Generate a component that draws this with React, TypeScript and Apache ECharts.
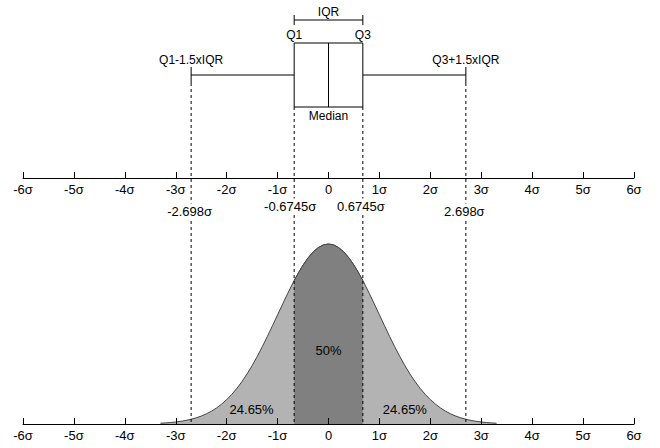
import React, { useEffect, useRef } from "react";
import * as echarts from "echarts";

// ---- data ----
const boxStats = [-2.698, -0.6745, 0, 0.6745, 2.698]; // whiskerLow, Q1, median, Q3, whiskerHigh
const boxLabels = ["Q1-1.5xIQR", "Q1", "Median", "Q3", "Q3+1.5xIQR"];
const iqrLabel = "IQR";
const markerLabels = ["-2.698σ", "-0.6745σ", "0.6745σ", "2.698σ"];
const regionLabels = ["24.65%", "50%", "24.65%"];
const regionCenters = [-1.51, 0, 1.5];
const regionHeights = [0.033, 0.164, 0.033];

const curveX = [
  -3.3, -3.2, -3.1, -3.0, -2.9, -2.8, -2.7, -2.6, -2.5, -2.4, -2.3, -2.2, -2.1, -2.0,
  -1.9, -1.8, -1.7, -1.6, -1.5, -1.4, -1.3, -1.2, -1.1, -1.0, -0.9, -0.8, -0.7, -0.6,
  -0.5, -0.4, -0.3, -0.2, -0.1, 0, 0.1, 0.2, 0.3, 0.4, 0.5, 0.6, 0.7, 0.8, 0.9, 1.0,
  1.1, 1.2, 1.3, 1.4, 1.5, 1.6, 1.7, 1.8, 1.9, 2.0, 2.1, 2.2, 2.3, 2.4, 2.5, 2.6, 2.7,
  2.8, 2.9, 3.0, 3.1, 3.2, 3.3,
];
const curveY = [
  0.0017, 0.0024, 0.0033, 0.0044, 0.006, 0.0079, 0.0104, 0.0136, 0.0175, 0.0224, 0.0283,
  0.0355, 0.044, 0.054, 0.0656, 0.079, 0.094, 0.1109, 0.1295, 0.1497, 0.1714, 0.1942,
  0.2179, 0.242, 0.2661, 0.2897, 0.3123, 0.3332, 0.3521, 0.3683, 0.3814, 0.391, 0.397,
  0.3989, 0.397, 0.391, 0.3814, 0.3683, 0.3521, 0.3332, 0.3123, 0.2897, 0.2661, 0.242,
  0.2179, 0.1942, 0.1714, 0.1497, 0.1295, 0.1109, 0.094, 0.079, 0.0656, 0.054, 0.044,
  0.0355, 0.0283, 0.0224, 0.0175, 0.0136, 0.0104, 0.0079, 0.006, 0.0044, 0.0033, 0.0024,
  0.0017,
];
const iqrX = [-0.6745, -0.6, -0.5, -0.4, -0.3, -0.2, -0.1, 0, 0.1, 0.2, 0.3, 0.4, 0.5, 0.6, 0.6745];
const iqrY = [
  0.3178, 0.3332, 0.3521, 0.3683, 0.3814, 0.391, 0.397, 0.3989, 0.397, 0.391, 0.3814,
  0.3683, 0.3521, 0.3332, 0.3178,
];

// ---- styles ----
const FONT_FAMILY = '"Liberation Sans", Arial, sans-serif';
const FONT = `12px ${FONT_FAMILY}`;
const FONT_NUM = `13px ${FONT_FAMILY}`;
const TXT = "#000";
const BOX_TOP = 43;
const BOX_BOTTOM = 107;
const WHISKER_Y = 75;
const CAP = 8;
const IQR_Y = 20;
const IQR_CAP = 5;

const fmt = (v: number) => (v === 0 ? "0" : `${v}σ`);

const axisCfg = (gridIndex: number) => ({
  type: "value",
  gridIndex,
  min: -6,
  max: 6,
  interval: 1,
  z: 5,
  axisLine: { show: true, onZero: false, lineStyle: { color: "#000", width: 1 } },
  axisTick: { show: true, inside: true, length: 6, lineStyle: { color: "#000", width: 1 } },
  axisLabel: { color: TXT, fontSize: 13, fontFamily: FONT_FAMILY, margin: 5, formatter: fmt },
  splitLine: { show: false },
});

function txt(text: string, x: number, y: number, font: string, bg?: boolean) {
  return {
    type: "text",
    x,
    y,
    z2: 20,
    style: {
      text,
      fill: TXT,
      font,
      align: "center",
      verticalAlign: "middle",
      textAlign: "center",
      textVerticalAlign: "middle",
      backgroundColor: bg ? "#fff" : undefined,
      padding: bg ? [1, 1] : undefined,
    },
  };
}

function line(x1: number, y1: number, x2: number, y2: number, dashed?: boolean) {
  return {
    type: "line",
    z2: 10,
    shape: { x1, y1, x2, y2 },
    style: { stroke: "#000", lineWidth: 1, lineDash: dashed ? [3, 3] : undefined },
  };
}

export default function App() {
  const ref = useRef<HTMLDivElement>(null);
  useEffect(() => {
    if (!ref.current) return;
    const chart = echarts.init(ref.current, undefined, { renderer: "svg" });
    const option: any = {
      animation: false,
      backgroundColor: "#fff",
      grid: [
        { left: 23, right: 26, top: 230, bottom: 24 },
        { left: 23, right: 26, top: 0, height: 178 },
      ],
      xAxis: [axisCfg(0), axisCfg(1)],
      yAxis: [
        { type: "value", gridIndex: 0, min: 0, max: 0.43, show: false },
        { type: "value", gridIndex: 1, min: 0, max: 1, show: false },
      ],
      series: [
        {
          type: "line",
          xAxisIndex: 0,
          yAxisIndex: 0,
          data: curveX.map((x, i) => [x, curveY[i]]),
          symbol: "none",
          silent: true,
          lineStyle: { color: "#444", width: 1 },
          areaStyle: { color: "#b3b3b3", opacity: 1 },
          z: 2,
        },
        {
          type: "line",
          xAxisIndex: 0,
          yAxisIndex: 0,
          data: iqrX.map((x, i) => [x, iqrY[i]]),
          symbol: "none",
          silent: true,
          lineStyle: { color: "#444", width: 1 },
          areaStyle: { color: "#808080", opacity: 1 },
          z: 3,
        },
        {
          type: "custom",
          xAxisIndex: 0,
          yAxisIndex: 0,
          silent: true,
          clip: false,
          z: 4,
          data: [boxStats],
          encode: { x: [0, 1, 2, 3, 4] },
          renderItem: (params: any, api: any) => {
            const px = (v: number) => api.coord([v, 0])[0];
            const base = api.coord([0, 0])[1];
            const [wl, q1, med, q3, wh] = [0, 1, 2, 3, 4].map((i) => px(api.value(i)));
            const children: any[] = [];
            // dashed guides
            children.push(line(wl, WHISKER_Y + CAP, wl, base, true));
            children.push(line(wh, WHISKER_Y + CAP, wh, base, true));
            children.push(line(q1, BOX_BOTTOM, q1, base, true));
            children.push(line(q3, BOX_BOTTOM, q3, base, true));
            // box
            children.push({
              type: "rect",
              z2: 11,
              shape: { x: q1, y: BOX_TOP, width: q3 - q1, height: BOX_BOTTOM - BOX_TOP },
              style: { fill: "#fff", stroke: "#000", lineWidth: 1 },
            });
            children.push({ ...line(med, BOX_TOP, med, BOX_BOTTOM), z2: 12 });
            // whiskers
            children.push(line(wl, WHISKER_Y, q1, WHISKER_Y));
            children.push(line(q3, WHISKER_Y, wh, WHISKER_Y));
            children.push(line(wl, WHISKER_Y - CAP, wl, WHISKER_Y + CAP));
            children.push(line(wh, WHISKER_Y - CAP, wh, WHISKER_Y + CAP));
            // IQR bracket
            children.push(line(q1, IQR_Y, q3, IQR_Y));
            children.push(line(q1, IQR_Y - IQR_CAP, q1, IQR_Y + IQR_CAP));
            children.push(line(q3, IQR_Y - IQR_CAP, q3, IQR_Y + IQR_CAP));
            children.push(txt(iqrLabel, (q1 + q3) / 2, 12, FONT));
            // box labels
            children.push(txt(boxLabels[0], wl, 60, FONT));
            children.push(txt(boxLabels[1], q1, 35, FONT));
            children.push(txt(boxLabels[2], med, 116, FONT));
            children.push(txt(boxLabels[3], q3, 35, FONT));
            children.push(txt(boxLabels[4], wh, 60, FONT));
            // sigma markers below top axis
            children.push(txt(markerLabels[0], wl - 1.5, 211, FONT_NUM, true));
            children.push(txt(markerLabels[1], q1 - 4, 206, FONT_NUM, true));
            children.push(txt(markerLabels[2], q3 - 2, 206, FONT_NUM, true));
            children.push(txt(markerLabels[3], wh - 1.5, 211, FONT_NUM, true));
            // region labels
            regionLabels.forEach((t, i) => {
              const p = api.coord([regionCenters[i], regionHeights[i]]);
              children.push(txt(t, p[0], p[1], FONT_NUM));
            });
            return { type: "group", children };
          },
        },
      ],
    };
    chart.setOption(option);
    return () => chart.dispose();
  }, []);
  return (
    <div
      ref={ref}
      style={{ position: "fixed", left: 0, top: 0, width: 660, height: 448, background: "#fff" }}
    />
  );
}
